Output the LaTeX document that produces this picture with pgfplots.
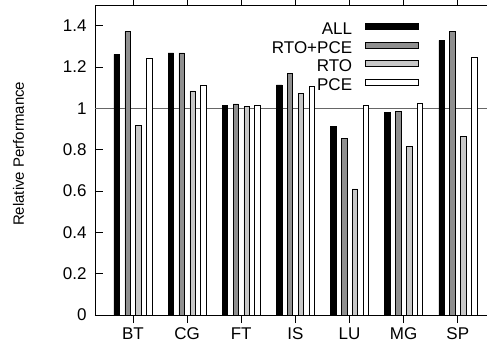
\documentclass[border=0pt]{standalone}
\usepackage{pgfplots}
\pgfplotsset{compat=1.18}
\usepackage{fontspec}
\setmainfont{Liberation Sans}
\definecolor{gA}{gray}{0.0}
\definecolor{gB}{gray}{0.56}
\definecolor{gC}{gray}{0.78}
\definecolor{gD}{gray}{1.0}
\begin{document}
\begin{tikzpicture}
\begin{axis}[
  name=ax,
  scale only axis,
  width=398pt, height=310pt,
  xmin=-0.7, xmax=6.65,
  ymin=0, ymax=1.5,
  xtick={0,1,2,3,4,5,6},
  xticklabels={BT,CG,FT,IS,LU,MG,SP},
  ytick={0,0.2,0.4,0.6,0.8,1,1.2,1.4},
  yticklabels={0,0.2,0.4,0.6,0.8,1,1.2,1.4},
  ytick pos=left,
  xtick pos=both,
  tick align=inside,
  major tick length=8pt,
  tick style={black, line width=0.8pt},
  axis line style={line width=0.9pt},
  tick label style={font=\fontsize{17}{19}\selectfont},
  xticklabel style={yshift=-1pt},
  yticklabel style={xshift=-5pt},
  ylabel={Relative Performance},
  every axis y label/.style={at={(rel axis cs:0,0.52)}, xshift=-76.5pt, rotate=90, anchor=center, font=\fontsize{15}{17}\selectfont},
  ybar, bar width=0.1,
  legend cell align=right,
  legend plot pos=right,
  legend style={draw=none, fill=none, at={(axis cs:5.28,1.418)}, anchor=north east,
    inner sep=0pt, row sep=6.5pt, column sep=13pt,
    font=\fontsize{17}{19}\selectfont,
    nodes={inner sep=0pt, text height=12.2pt, text depth=0pt}},
  legend image code/.code={\draw[#1] (0pt,-1pt) rectangle (53pt,5pt);},
]
\addplot[forget plot, black!60, line width=0.8pt, sharp plot] coordinates {(-0.7,1) (6.65,1)};
\addplot[draw=black, fill=gA, line width=0.5pt, bar shift=-0.3] coordinates {
(0,1.261) (1,1.268) (2,1.013) (3,1.113) (4,0.912) (5,0.979) (6,1.329)};
\addplot[draw=black, fill=gB, line width=0.5pt, bar shift=-0.1] coordinates {
(0,1.371) (1,1.268) (2,1.021) (3,1.169) (4,0.853) (5,0.984) (6,1.374)};
\addplot[draw=black, fill=gC, line width=0.5pt, bar shift=0.1] coordinates {
(0,0.919) (1,1.084) (2,1.008) (3,1.074) (4,0.610) (5,0.816) (6,0.866)};
\addplot[draw=black, fill=gD, line width=0.5pt, bar shift=0.3] coordinates {
(0,1.242) (1,1.110) (2,1.013) (3,1.108) (4,1.013) (5,1.024) (6,1.249)};
\legend{ALL,RTO+PCE,RTO,PCE}
\end{axis}
\pgfresetboundingbox
\useasboundingbox ([shift={(-95pt,-28pt)}]ax.south west) rectangle ([shift={(392pt,315pt)}]ax.south west);
\end{tikzpicture}
\end{document}
